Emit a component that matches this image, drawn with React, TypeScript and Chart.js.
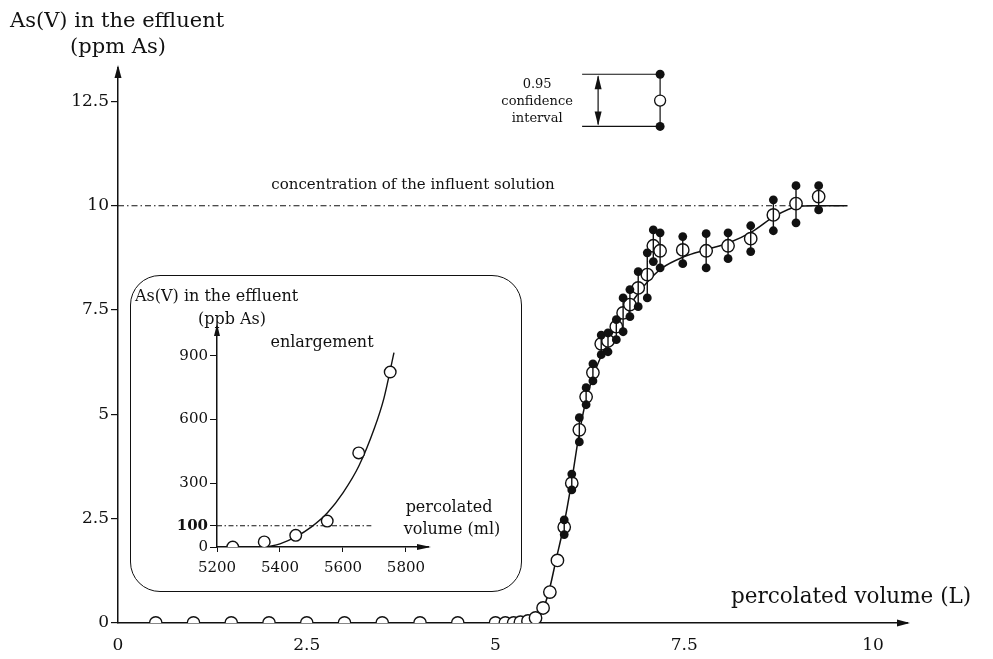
import React, { useEffect, useRef } from 'react';
import { Chart, registerables } from 'chart.js';

Chart.register(...registerables);

const FONT = '"DejaVu Serif", "Liberation Serif", serif';

// ---------- main chart data ----------
const xTickValues = [0, 2.5, 5, 7.5, 10];
const xTickLabels = ['0', '2.5', '5', '7.5', '10'];
const yTickValues = [0, 2.5, 5, 7.5, 10, 12.5];
const yTickLabels = ['0', '2.5', '5', '7.5', '10', '12.5'];

// open circles without error bars (volume in L, As(V) in ppm)
const flatX = [0.5, 1, 1.5, 2, 2.5, 3, 3.5, 4, 4.5, 5.0, 5.13, 5.24, 5.33, 5.43, 5.53, 5.63, 5.72, 5.82];
const flatY = [0, 0, 0, 0, 0, 0, 0, 0, 0, 0, 0, 0, 0.02, 0.05, 0.12, 0.36, 0.74, 1.5];

// measurements with 0.95 confidence interval
const errX = [5.91, 6.01, 6.11, 6.2, 6.29, 6.4, 6.49, 6.6, 6.69, 6.78, 6.89, 7.01, 7.09, 7.18, 7.48, 7.79, 8.08, 8.38, 8.68, 8.98, 9.28];
const errMean = [2.3, 3.35, 4.63, 5.42, 6.0, 6.69, 6.76, 7.1, 7.43, 7.63, 8.03, 8.35, 9.04, 8.92, 8.94, 8.92, 9.04, 9.21, 9.78, 10.05, 10.22];
const errLow = [2.12, 3.19, 4.34, 5.23, 5.8, 6.43, 6.5, 6.79, 6.98, 7.34, 7.58, 7.79, 8.66, 8.51, 8.61, 8.51, 8.73, 8.9, 9.4, 9.59, 9.9];
const errHigh = [2.47, 3.57, 4.92, 5.64, 6.21, 6.9, 6.95, 7.27, 7.79, 7.99, 8.42, 8.87, 9.42, 9.35, 9.26, 9.33, 9.35, 9.52, 10.14, 10.48, 10.48];

// fitted breakthrough curve
const curveX = [0, 5.5, 5.58, 5.65, 5.72, 5.8, 5.9, 6.0, 6.1, 6.2, 6.3, 6.4, 6.55, 6.7, 6.85, 7.0, 7.2, 7.5, 7.8, 8.1, 8.4, 8.7, 9.0, 9.2, 9.66];
const curveY = [0, 0, 0.15, 0.42, 0.85, 1.5, 2.3, 3.3, 4.45, 5.35, 5.95, 6.4, 6.95, 7.4, 7.8, 8.15, 8.5, 8.78, 8.95, 9.12, 9.38, 9.75, 9.98, 10.0, 10.0];

const influentConc = 10;
const influentEndX = 9.66;

// confidence-interval key
const keyX = 7.18;
const keyLow = 11.9;
const keyMid = 12.52;
const keyHigh = 13.15;

// ---------- inset data (ml, ppb) ----------
const inXTickValues = [5200, 5400, 5600, 5800];
const inXTickLabels = ['5200', '5400', '5600', '5800'];
const inYTickValues = [0, 100, 300, 600, 900];
const inYTickLabels = ['0', '100', '300', '600', '900'];
const inPointsX = [5250, 5350, 5450, 5550, 5650, 5750];
const inPointsY = [0, 24, 55, 122, 443, 824];
const inCurveX = [5360, 5400, 5450, 5500, 5550, 5600, 5650, 5700, 5730, 5762];
const inCurveY = [0, 15, 48, 95, 160, 255, 380, 560, 700, 915];
const inThreshold = 100;
const inThresholdEnd = 5690;

const BLACK = '#111';

function pts(xs: number[], ys: number[]) {
  return xs.map((x, i) => ({ x, y: ys[i] }));
}

function arrowUp(ctx: CanvasRenderingContext2D, x: number, y: number, w = 3.5, h = 13) {
  ctx.beginPath();
  ctx.moveTo(x, y);
  ctx.lineTo(x - w, y + h);
  ctx.lineTo(x + w, y + h);
  ctx.closePath();
  ctx.fill();
}
function arrowDown(ctx: CanvasRenderingContext2D, x: number, y: number, w = 3.5, h = 13) {
  ctx.beginPath();
  ctx.moveTo(x, y);
  ctx.lineTo(x - w, y - h);
  ctx.lineTo(x + w, y - h);
  ctx.closePath();
  ctx.fill();
}
function arrowRight(ctx: CanvasRenderingContext2D, x: number, y: number, w = 3.5, h = 13) {
  ctx.beginPath();
  ctx.moveTo(x, y);
  ctx.lineTo(x - h, y - w);
  ctx.lineTo(x - h, y + w);
  ctx.closePath();
  ctx.fill();
}

const mainDecor = {
  id: 'mainDecor',
  afterDraw(chart: any) {
    const { ctx, scales, chartArea } = chart;
    const xs = scales.x;
    const ys = scales.y;
    const x0 = xs.getPixelForValue(0);
    const y0 = ys.getPixelForValue(0);
    ctx.save();
    ctx.fillStyle = BLACK;
    ctx.strokeStyle = BLACK;
    arrowUp(ctx, x0, chartArea.top - 3);
    arrowRight(ctx, chartArea.right + 3, y0);

    ctx.textBaseline = 'middle';
    ctx.font = `21px ${FONT}`;
    ctx.textAlign = 'left';
    ctx.fillText('As(V) in the effluent', 10, 22);
    ctx.textAlign = 'center';
    ctx.fillText('(ppm As)', x0, 48);
    ctx.font = `21.5px ${FONT}`;
    ctx.textAlign = 'left';
    ctx.fillText('percolated volume (L)', 731, 597);

    ctx.font = `15px ${FONT}`;
    ctx.textAlign = 'center';
    ctx.fillText('concentration of the influent solution', 413, 185);

    // confidence interval key
    const kx = xs.getPixelForValue(keyX);
    const kTop = ys.getPixelForValue(keyHigh);
    const kBot = ys.getPixelForValue(keyLow);
    const kMid = ys.getPixelForValue(keyMid);
    ctx.lineWidth = 1.2;
    ctx.beginPath();
    ctx.moveTo(kx - 78, kTop); ctx.lineTo(kx, kTop);
    ctx.moveTo(kx - 78, kBot); ctx.lineTo(kx, kBot);
    ctx.moveTo(kx, kTop); ctx.lineTo(kx, kBot);
    const ax = kx - 62;
    ctx.moveTo(ax, kTop + 2); ctx.lineTo(ax, kBot - 2);
    ctx.stroke();
    arrowUp(ctx, ax, kTop + 1, 3.5, 14);
    arrowDown(ctx, ax, kBot - 1, 3.5, 14);
    ctx.beginPath(); ctx.arc(kx, kTop, 4.5, 0, Math.PI * 2); ctx.fill();
    ctx.beginPath(); ctx.arc(kx, kBot, 4.5, 0, Math.PI * 2); ctx.fill();
    ctx.beginPath(); ctx.arc(kx, kMid, 5.5, 0, Math.PI * 2);
    ctx.fillStyle = '#fff'; ctx.fill(); ctx.lineWidth = 1.3; ctx.stroke();
    ctx.fillStyle = BLACK;
    ctx.font = `13px ${FONT}`;
    ctx.textAlign = 'center';
    ctx.fillText('0.95', kx - 123, kTop + 10);
    ctx.fillText('confidence', kx - 123, kMid + 1);
    ctx.fillText('interval', kx - 123, kBot - 8);
    ctx.restore();
  },
};

const insetDecor = {
  id: 'insetDecor',
  afterDraw(chart: any) {
    const { ctx, scales, chartArea } = chart;
    const xs = scales.x;
    const ys = scales.y;
    const x0 = xs.getPixelForValue(inXTickValues[0]);
    const y0 = ys.getPixelForValue(0);
    ctx.save();
    ctx.fillStyle = BLACK;
    arrowUp(ctx, x0, chartArea.top - 3, 3, 12);
    arrowRight(ctx, chartArea.right + 3, y0, 3, 14);
    ctx.textBaseline = 'middle';
    ctx.font = `16px ${FONT}`;
    ctx.textAlign = 'left';
    ctx.fillText('As(V) in the effluent', 5, 22);
    ctx.textAlign = 'center';
    ctx.fillText('(ppb As)', 102, 45);
    ctx.fillText('enlargement', 192, 68);
    ctx.fillText('percolated', 319, 233);
    ctx.fillText('volume (ml)', 322, 255);
    ctx.restore();
  },
};

const circleStyle = {
  pointRadius: 6.2,
  pointBorderWidth: 1.4,
  pointBackgroundColor: '#fff',
  pointBorderColor: BLACK,
};

export default function App() {
  const mainRef = useRef<HTMLCanvasElement>(null);
  const insetRef = useRef<HTMLCanvasElement>(null);

  useEffect(() => {
    const errSegments: any[] = [];
    errX.forEach((x, i) => {
      errSegments.push({ x, y: errLow[i] });
      errSegments.push({ x, y: errHigh[i] });
      errSegments.push({ x, y: null });
    });
    const dots = [...pts(errX, errLow), ...pts(errX, errHigh)];
    const meanPts = [...pts(flatX, flatY), ...pts(errX, errMean)];

    const main = new Chart(mainRef.current!, {
      type: 'scatter',
      data: {
        datasets: [
          {
            type: 'line',
            data: errSegments,
            borderColor: BLACK,
            borderWidth: 1.4,
            pointRadius: 0,
            spanGaps: false,
            order: 0,
          } as any,
          {
            data: dots,
            pointRadius: 4.4,
            pointBackgroundColor: BLACK,
            pointBorderColor: BLACK,
            pointBorderWidth: 0,
            order: 1,
          },
          { data: meanPts, ...circleStyle, order: 2 },
          {
            type: 'line',
            data: pts(curveX, curveY),
            borderColor: BLACK,
            borderWidth: 1.5,
            pointRadius: 0,
            cubicInterpolationMode: 'monotone',
            order: 3,
          } as any,
          {
            type: 'line',
            data: [{ x: 0, y: influentConc }, { x: influentEndX, y: influentConc }],
            borderColor: BLACK,
            borderWidth: 1.1,
            borderDash: [6, 3, 1.5, 3],
            pointRadius: 0,
            order: 4,
          } as any,
        ],
      },
      options: {
        animation: false,
        responsive: false,
        devicePixelRatio: 1,
        layout: { padding: { left: 68, right: 86, top: 68, bottom: 6 } },
        plugins: { legend: { display: false }, tooltip: { enabled: false } },
        scales: {
          x: {
            type: 'linear',
            min: 0,
            max: 10.45,
            afterBuildTicks: (s: any) => { s.ticks = xTickValues.map((v) => ({ value: v })); },
            afterFit: (s: any) => { s.height = 30; },
            grid: { display: true, drawOnChartArea: false, drawTicks: true, tickLength: 8, color: 'rgba(0,0,0,0)' },
            border: { display: true, color: BLACK, width: 1.5 },
            ticks: {
              autoSkip: false,
              maxRotation: 0,
              padding: 4,
              color: BLACK,
              font: { family: FONT, size: 17 },
              callback: (_v: any, i: number) => xTickLabels[i],
            },
          },
          y: {
            type: 'linear',
            min: 0,
            max: 13.3,
            afterBuildTicks: (s: any) => { s.ticks = yTickValues.map((v) => ({ value: v })); },
            afterFit: (s: any) => { s.width = 50; },
            grid: { display: true, drawOnChartArea: false, drawTicks: true, tickLength: 7, color: BLACK, lineWidth: 1.2 },
            border: { display: true, color: BLACK, width: 1.5 },
            ticks: {
              autoSkip: false,
              padding: 2,
              color: BLACK,
              font: { family: FONT, size: 17 },
              callback: (_v: any, i: number) => yTickLabels[i],
            },
          },
        },
      } as any,
      plugins: [mainDecor],
    });

    const inset = new Chart(insetRef.current!, {
      type: 'scatter',
      data: {
        datasets: [
          { data: pts(inPointsX, inPointsY), ...circleStyle, pointRadius: 5.8, order: 0 },
          {
            type: 'line',
            data: pts(inCurveX, inCurveY),
            borderColor: BLACK,
            borderWidth: 1.4,
            pointRadius: 0,
            cubicInterpolationMode: 'monotone',
            order: 1,
          } as any,
          {
            type: 'line',
            data: [{ x: inXTickValues[0], y: inThreshold }, { x: inThresholdEnd, y: inThreshold }],
            borderColor: BLACK,
            borderWidth: 1,
            borderDash: [5, 2.5, 1.5, 2.5],
            pointRadius: 0,
            order: 2,
          } as any,
        ],
      },
      options: {
        animation: false,
        responsive: false,
        devicePixelRatio: 1,
        layout: { padding: { left: 47, right: 94, top: 52, bottom: 17 } },
        plugins: { legend: { display: false }, tooltip: { enabled: false } },
        scales: {
          x: {
            type: 'linear',
            min: 5200,
            max: 5870,
            afterBuildTicks: (s: any) => { s.ticks = inXTickValues.map((v) => ({ value: v })); },
            afterFit: (s: any) => { s.height = 28; },
            grid: { display: true, drawOnChartArea: false, drawTicks: true, tickLength: 5, color: BLACK, lineWidth: 1 },
            border: { display: true, color: BLACK, width: 1.5 },
            ticks: {
              autoSkip: false,
              maxRotation: 0,
              padding: 7,
              color: BLACK,
              font: { family: FONT, size: 15 },
              callback: (_v: any, i: number) => inXTickLabels[i],
            },
          },
          y: {
            type: 'linear',
            min: 0,
            max: 1036,
            afterBuildTicks: (s: any) => { s.ticks = inYTickValues.map((v) => ({ value: v })); },
            afterFit: (s: any) => { s.width = 40; },
            grid: { display: true, drawOnChartArea: false, drawTicks: true, tickLength: 7, color: BLACK, lineWidth: 1 },
            border: { display: true, color: BLACK, width: 1.5 },
            ticks: {
              autoSkip: false,
              padding: 2,
              color: BLACK,
              font: (c: any) => ({
                family: FONT,
                size: 15,
                weight: c.tick && c.tick.value === inThreshold ? 'bold' : 'normal',
              }),
              callback: (_v: any, i: number) => inYTickLabels[i],
            },
          },
        },
      } as any,
      plugins: [insetDecor],
    });

    return () => {
      main.destroy();
      inset.destroy();
    };
  }, []);

  return (
    <div style={{ position: 'fixed', left: 0, top: 0, width: 993, height: 659, background: '#fff' }}>
      <canvas ref={mainRef} width={993} height={659} style={{ position: 'absolute', left: 0, top: 0 }} />
      <div
        style={{
          position: 'absolute',
          left: 130,
          top: 275,
          width: 392,
          height: 317,
          boxSizing: 'border-box',
          border: '1.5px solid #111',
          borderRadius: 30,
          background: '#fff',
        }}
      />
      <canvas ref={insetRef} width={392} height={317} style={{ position: 'absolute', left: 130, top: 275 }} />
    </div>
  );
}
